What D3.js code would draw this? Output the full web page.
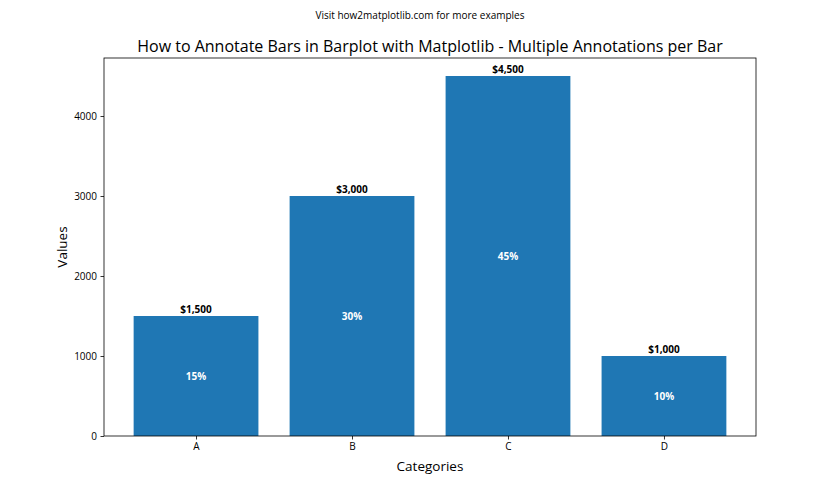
<!DOCTYPE html>
<html>
<head>
<meta charset="utf-8">
<script src="https://cdn.jsdelivr.net/npm/d3@7"></script>
<style>
  body { margin: 0; background: #fff; }
  text { font-family: "Open Sans", "Noto Sans", sans-serif; }
</style>
</head>
<body>
<div class="canva"></div>
<script>
const categories = ["A", "B", "C", "D"]
const values = [1500, 3000, 4500, 1000]
const percentages = [15, 30, 45, 10]
const yTicks = [0, 1000, 2000, 3000, 4000]

const width = 840, height = 490
const margin = { top: 58, right: 84, bottom: 54, left: 104 }
const plotW = width - margin.left - margin.right
const plotH = height - margin.top - margin.bottom

const svg = d3.select(".canva").append("svg")
    .attr("width", width)
    .attr("height", height)

// matplotlib-like x: bars of width 0.8 at integer positions, 5% margins
const xLin = d3.scaleLinear().domain([-0.59, 3.59]).range([0, plotW])
const y = d3.scaleLinear().domain([0, 4725]).range([plotH, 0])

const g = svg.append("g").attr("transform", `translate(${margin.left},${margin.top})`)

g.selectAll("rect.bar")
    .data(values)
    .enter().append("rect")
    .attr("class", "bar")
    .attr("x", (d, i) => xLin(i - 0.4))
    .attr("width", xLin(0.8) - xLin(0))
    .attr("y", d => y(d))
    .attr("height", d => plotH - y(d))
    .attr("fill", "#1f77b4")

// value labels above
g.selectAll("text.val")
    .data(values)
    .enter().append("text")
    .attr("x", (d, i) => xLin(i))
    .attr("y", d => y(d) - 3)
    .attr("text-anchor", "middle")
    .attr("font-size", 10)
    .attr("font-weight", "bold")
    .text(d => "$" + d3.format(",")(d))

// percentage labels in middle
g.selectAll("text.pct")
    .data(percentages)
    .enter().append("text")
    .attr("x", (d, i) => xLin(i))
    .attr("y", (d, i) => y(values[i] / 2))
    .attr("dy", "0.35em")
    .attr("text-anchor", "middle")
    .attr("font-size", 10)
    .attr("font-weight", "bold")
    .attr("fill", "white")
    .text(d => d + "%")

// axes
const xAxis = g.append("g")
    .attr("transform", `translate(0,${plotH})`)
    .call(d3.axisBottom(xLin).tickValues([0, 1, 2, 3]).tickFormat(i => categories[i]).tickSize(3.5).tickPadding(3.5))
const yAxis = g.append("g")
    .call(d3.axisLeft(y).tickValues(yTicks).tickFormat(d3.format("d")).tickSize(3.5).tickPadding(3.5))

;[xAxis, yAxis].forEach(a => {
    a.select(".domain").remove()
    a.selectAll("text").attr("font-size", 10).attr("fill", "#000").style("font-family", "'Open Sans', sans-serif")
    a.selectAll("line").attr("stroke", "#000").attr("stroke-width", 0.8)
})

// frame
g.append("rect")
    .attr("width", plotW).attr("height", plotH)
    .attr("fill", "none").attr("stroke", "#000").attr("stroke-width", 0.8)

// titles
svg.append("text")
    .attr("x", width / 2).attr("y", 19)
    .attr("text-anchor", "middle").attr("font-size", 10)
    .text("Visit how2matplotlib.com for more examples")

svg.append("text")
    .attr("x", margin.left + plotW / 2).attr("y", 52)
    .attr("text-anchor", "middle").attr("font-size", 16)
    .text("How to Annotate Bars in Barplot with Matplotlib - Multiple Annotations per Bar")

svg.append("text")
    .attr("x", margin.left + plotW / 2).attr("y", 471)
    .attr("text-anchor", "middle").attr("font-size", 13.5)
    .text("Categories")

svg.append("text")
    .attr("transform", `translate(67,${margin.top + plotH / 2}) rotate(-90)`)
    .attr("text-anchor", "middle").attr("font-size", 13.5)
    .text("Values")
</script>
</body>
</html>
